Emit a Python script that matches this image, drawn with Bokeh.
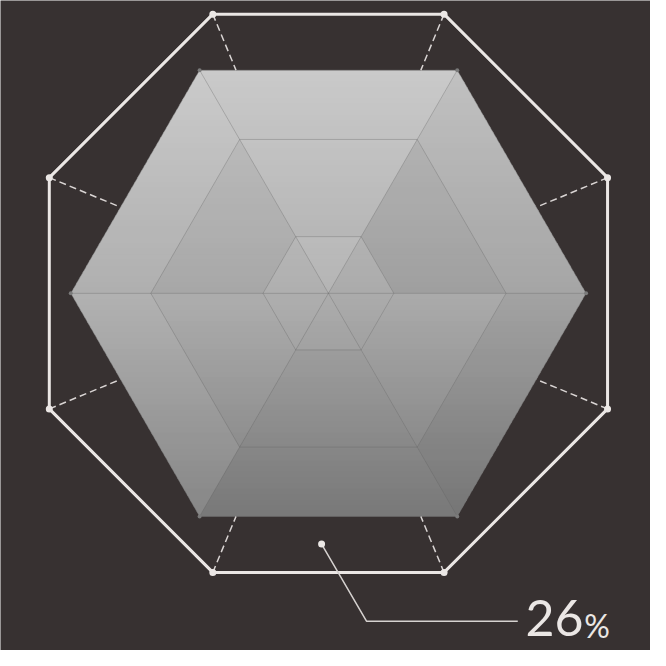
import math
from bokeh.plotting import figure
from bokeh.models import Range1d
from bokeh.core.properties import value
from bokeh.embed import file_html
from bokeh.resources import INLINE

# ---- chart parameters ----
CENTER = (336, 300)
LEVEL_RADII = [67, 182, 264]          # inner, middle, outer hexagon rings
SPOKE_ANGLES = [0, 60, 120, 180, 240, 300]
OCTAGON_APOTHEM = 286
OCTAGON_ANGLES = [22.5, 67.5, 112.5, 157.5, 202.5, 247.5, 292.5, 337.5]
GRAD_STOPS_Y = [-264 * 0.866, 0, 264 * 0.866]    # top, centre, bottom offsets
GRAD_STOPS_V = [201, 172, 124]                  # grey level at those stops
# target grey level of each facet: sector (upper-right, top, upper-left,
# lower-left, bottom, lower-right) x ring (inner, middle, outer)
FACET_UPPER_RIGHT = [174, 166, 177]
FACET_TOP = [185, 189, 198]
FACET_UPPER_LEFT = [178, 174, 187]
FACET_LOWER_LEFT = [171, 163, 160]
FACET_BOTTOM = [165, 147, 128]
FACET_LOWER_RIGHT = [168, 160, 144]
CALLOUT_POINT = (329, 557)
CALLOUT_PATH_X = [329, 375, 530]
CALLOUT_PATH_Y = [557, 636, 636]
VALUE_LABEL = ["26"]
UNIT_LABEL = ["%"]

BG = "#373131"
WHITE = "#ebe7e5"

cx, cy = CENTER

p = figure(width=650, height=650, x_range=Range1d(0, 666), y_range=Range1d(666, 0),
           output_backend="svg", toolbar_location=None, min_border=0,
           background_fill_color=BG, border_fill_color=BG, outline_line_color=None)
p.axis.visible = False
p.grid.visible = False


def pt(r, a):
    return cx + r * math.cos(math.radians(a)), cy - r * math.sin(math.radians(a))


def hex_pts(r):
    pts = [pt(r, a) for a in SPOKE_ANGLES]
    return [q[0] for q in pts], [q[1] for q in pts]


R = LEVEL_RADII[-1]
H = R * math.sqrt(3) / 2


def grey_val(dy):
    if dy <= GRAD_STOPS_Y[1]:
        t = (dy - GRAD_STOPS_Y[0]) / (GRAD_STOPS_Y[1] - GRAD_STOPS_Y[0])
        return GRAD_STOPS_V[0] + t * (GRAD_STOPS_V[1] - GRAD_STOPS_V[0])
    t = (dy - GRAD_STOPS_Y[1]) / (GRAD_STOPS_Y[2] - GRAD_STOPS_Y[1])
    return GRAD_STOPS_V[1] + t * (GRAD_STOPS_V[2] - GRAD_STOPS_V[1])


def hexcol(v):
    v = int(round(max(0, min(255, v))))
    return "#%02x%02x%02x" % (v, v, v)


def half_w(d):
    return R - abs(d) / math.sqrt(3)


# gradient bands inside the outer hexagon (overlapping to hide seams)
N = 80
band_xs, band_ys, band_c = [], [], []
for i in range(N):
    d0 = -H + 2 * H * i / N
    d1 = min(H, -H + 2 * H * (i + 1) / N + 2.0)
    xs = [cx - half_w(d0), cx + half_w(d0)]
    ys = [cy + d0, cy + d0]
    cross = d0 < 0 < d1
    if cross:
        xs.append(cx + R); ys.append(cy)
    xs += [cx + half_w(d1), cx - half_w(d1)]
    ys += [cy + d1, cy + d1]
    if cross:
        xs.append(cx - R); ys.append(cy)
    band_xs.append(xs); band_ys.append(ys)
    band_c.append(hexcol(grey_val(-H + 2 * H * (i + 0.5) / N)))
p.patches(band_xs, band_ys, fill_color=band_c, line_color=None)

# facet tints so that each facet reaches its target grey
FACETS = [FACET_UPPER_RIGHT, FACET_TOP, FACET_UPPER_LEFT,
          FACET_LOWER_LEFT, FACET_BOTTOM, FACET_LOWER_RIGHT]
radii_in = [0] + LEVEL_RADII[:-1]
fx, fy, fc, fa = [], [], [], []
for k, targets in enumerate(FACETS):
    a0, a1 = SPOKE_ANGLES[k], SPOKE_ANGLES[k] + 60
    for ring, target in enumerate(targets):
        rin, rout = radii_in[ring], LEVEL_RADII[ring]
        if rin == 0:
            poly = [pt(0, a0), pt(rout, a0), pt(rout, a1)]
        else:
            poly = [pt(rin, a0), pt(rout, a0), pt(rout, a1), pt(rin, a1)]
        xs = [q[0] for q in poly]; ys = [q[1] for q in poly]
        base = grey_val(sum(ys) / len(ys) - cy)
        diff = target - base
        if diff >= 0:
            col, alpha = "white", diff / (255 - base)
        else:
            col, alpha = "black", -diff / base
        fx.append(xs); fy.append(ys); fc.append(col); fa.append(round(alpha, 3))
p.patches(fx, fy, fill_color=fc, fill_alpha=fa, line_color=None)

# internal grid: rings and spokes
ox, oy = hex_pts(R)
for r in LEVEL_RADII[:-1]:
    hx, hy = hex_pts(r)
    p.line(hx + [hx[0]], hy + [hy[0]], line_color="#5e5e5e", line_alpha=0.3, line_width=1)
for a in SPOKE_ANGLES:
    ex, ey = pt(R, a)
    p.line([cx, ex], [cy, ey], line_color="#5e5e5e", line_alpha=0.3, line_width=1)
p.line(ox + [ox[0]], oy + [oy[0]], line_color="#777777", line_alpha=0.4, line_width=1)
p.scatter(ox, oy, size=4, marker="circle", fill_color="#7a7a7a", line_color=None)

# octagon frame
Rc = OCTAGON_APOTHEM / math.cos(math.radians(22.5))
octx = [pt(Rc, a)[0] for a in OCTAGON_ANGLES]
octy = [pt(Rc, a)[1] for a in OCTAGON_ANGLES]

# dashed radial connectors from octagon vertices to hexagon boundary
apo = R * math.sqrt(3) / 2
dxs, dys = [], []
for a, vx, vy in zip(OCTAGON_ANGLES, octx, octy):
    normals = [30, 90, 150, 210, 270, 330]
    diff = min(abs(((a - n + 180) % 360) - 180) for n in normals)
    ex, ey = pt(apo / math.cos(math.radians(diff)), a)
    dxs.append([vx, ex]); dys.append([vy, ey])
p.multi_line(dxs, dys, line_color=WHITE, line_width=1.5, line_dash="7 4", line_alpha=0.9)

p.line(octx + [octx[0]], octy + [octy[0]], line_color=WHITE, line_width=3)
p.scatter(octx, octy, size=7, marker="circle", fill_color=WHITE, line_color=None)

# callout
p.line(CALLOUT_PATH_X, CALLOUT_PATH_Y, line_color="#d6d2d0", line_width=1.5)
p.scatter([CALLOUT_POINT[0]], [CALLOUT_POINT[1]], size=7, marker="circle",
          fill_color=WHITE, line_color=None)
p.text(x=[538], y=[633], text=VALUE_LABEL, text_font=value("Lato"), text_font_size="50px",
       text_color=WHITE, text_align="left", text_baseline="middle")
p.text(x=[598], y=[640], text=UNIT_LABEL, text_font=value("Lato"), text_font_size="32px",
       text_color=WHITE, text_align="left", text_baseline="middle")

open("out.html", "w").write(file_html(p, INLINE))
